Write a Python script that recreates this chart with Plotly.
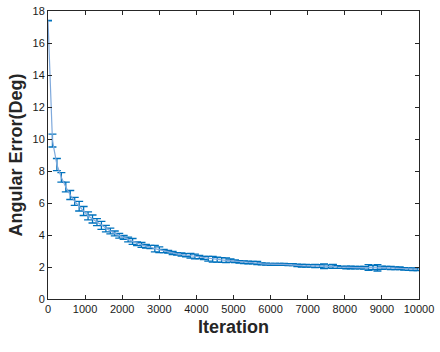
import plotly.graph_objects as go

iterations = list(range(0, 10000, 120))

mean_error = [
    17.4, 9.9, 8.4, 7.6, 7.0, 6.5, 6.1, 5.8, 5.5, 5.2,
    5.0, 4.8, 4.6, 4.4, 4.25, 4.1, 3.95, 3.85, 3.72, 3.6,
    3.45, 3.38, 3.3, 3.25, 3.15, 3.08, 3.0, 2.95, 2.88, 2.82,
    2.78, 2.74, 2.7, 2.66, 2.62, 2.57, 2.52, 2.48, 2.46, 2.44,
    2.42, 2.40, 2.36, 2.32, 2.30, 2.28, 2.27, 2.25, 2.20, 2.18,
    2.17, 2.17, 2.16, 2.16, 2.15, 2.15, 2.10, 2.08, 2.08, 2.07,
    2.06, 2.06, 2.05, 2.03, 2.04, 2.00, 1.98, 1.97, 1.97, 1.96,
    1.96, 1.95, 1.97, 1.96, 1.95, 1.96, 1.95, 1.94, 1.92, 1.92,
    1.88, 1.87, 1.86, 1.86,
]

error_size = [
    0.02, 0.40, 0.38, 0.30, 0.30, 0.28, 0.25, 0.30, 0.28, 0.25,
    0.25, 0.22, 0.25, 0.20, 0.18, 0.15, 0.15, 0.12, 0.15, 0.18,
    0.12, 0.15, 0.12, 0.10, 0.20, 0.18, 0.10, 0.08, 0.10, 0.08,
    0.10, 0.10, 0.15, 0.15, 0.10, 0.10, 0.15, 0.18, 0.15, 0.15,
    0.15, 0.10, 0.08, 0.08, 0.08, 0.08, 0.08, 0.10, 0.06, 0.06,
    0.06, 0.06, 0.06, 0.06, 0.06, 0.06, 0.08, 0.08, 0.08, 0.08,
    0.10, 0.08, 0.15, 0.10, 0.12, 0.08, 0.06, 0.08, 0.08, 0.08,
    0.08, 0.08, 0.18, 0.12, 0.20, 0.10, 0.08, 0.10, 0.08, 0.08,
    0.08, 0.08, 0.08, 0.08,
]

x_ticks = list(range(0, 10001, 1000))
y_ticks = list(range(0, 19, 2))

fig = go.Figure()
fig.add_trace(go.Scatter(
    x=iterations, y=mean_error, mode="lines",
    line=dict(color="#7fa9dc", width=1.2),
    error_y=dict(type="data", array=error_size, visible=True,
                 color="#0072BD", thickness=1.3, width=4),
    showlegend=False,
))

axis_common = dict(
    showgrid=False, zeroline=False, showline=True, linecolor="#262626",
    linewidth=1, mirror="ticks", ticks="inside", ticklen=4,
    tickcolor="#262626", tickwidth=1,
    tickfont=dict(family="Liberation Sans, Arial, sans-serif", size=11, color="#1a1a1a"),
)

fig.update_xaxes(
    range=[0, 10000], tickvals=x_ticks, ticktext=[str(v) for v in x_ticks],
    title=dict(text="<b>Iteration</b>", standoff=6,
               font=dict(family="Liberation Sans, Arial, sans-serif", size=18, color="#262626")),
    **axis_common,
)
fig.update_yaxes(
    range=[0, 18], tickvals=y_ticks, ticktext=[str(v) for v in y_ticks],
    title=dict(text="<b>Angular Error(Deg)</b>", standoff=5,
               font=dict(family="Liberation Sans, Arial, sans-serif", size=18, color="#262626")),
    **axis_common,
)

fig.update_layout(
    width=440, height=352,
    margin=dict(l=48, r=21, t=11, b=53, autoexpand=False),
    paper_bgcolor="white", plot_bgcolor="white",
)

fig.write_html("out.html")
